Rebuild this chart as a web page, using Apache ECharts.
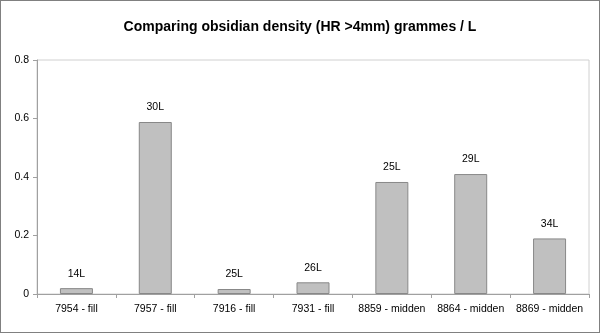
<!DOCTYPE html>
<html><head><meta charset="utf-8">
<script src="https://cdn.jsdelivr.net/npm/echarts@6/dist/echarts.min.js"></script>
<style>html,body{margin:0;padding:0;background:#fff}#c{width:600px;height:333px;box-sizing:border-box;border:1px solid #808080}</style>
</head><body><div id="c"></div>
<script>
const categories = ['7954 - fill','7957 - fill','7916 - fill','7931 - fill','8859 - midden','8864 - midden','8869 - midden'];
const values = [0.02, 0.588, 0.017, 0.04, 0.383, 0.41, 0.19];
const volumes = ['14L','30L','25L','26L','25L','29L','34L'];
const yTicks = [0, 0.2, 0.4, 0.6, 0.8];
const chart = echarts.init(document.getElementById('c'));
const F = '"Liberation Sans", Arial, sans-serif';
chart.setOption({
  animation: false,
  title: {text: 'Comparing obsidian density (HR >4mm) grammes / L', left: 'center', top: 14,
    textStyle: {fontFamily: F, fontSize: 14, fontWeight: 'bold', color: '#000'}},
  grid: {left: 36, right: 10, top: 59, bottom: 38, show: true, borderColor: '#d0d0d0', borderWidth: 1},
  xAxis: {type: 'category', data: categories,
    axisLine: {lineStyle: {color: '#a0a0a0'}},
    axisTick: {show: true, alignWithLabel: false, length: 4, lineStyle: {color: '#a0a0a0'}},
    axisLabel: {fontFamily: F, fontSize: 10.5, color: '#000', margin: 10, interval: 0}},
  yAxis: {type: 'value', min: 0, max: 0.8, interval: 0.2,
    axisLine: {show: true, lineStyle: {color: '#a0a0a0'}},
    axisTick: {show: true, length: 4, inside: false, lineStyle: {color: '#a0a0a0'}},
    splitLine: {show: false},
    axisLabel: {fontFamily: F, fontSize: 10.5, color: '#000', margin: 8,
      formatter: v => yTicks.includes(Math.round(v*10)/10) ? (v === 0 ? '0' : String(Math.round(v*10)/10)) : ''}},
  series: [{type: 'bar', data: values, barWidth: 33,
    itemStyle: {color: '#c0c0c0', borderColor: '#888', borderWidth: 1},
    label: {show: true, position: 'top', distance: 9, fontFamily: F, fontSize: 10.5, color: '#000',
      formatter: p => volumes[p.dataIndex]}}]
});
</script></body></html>
